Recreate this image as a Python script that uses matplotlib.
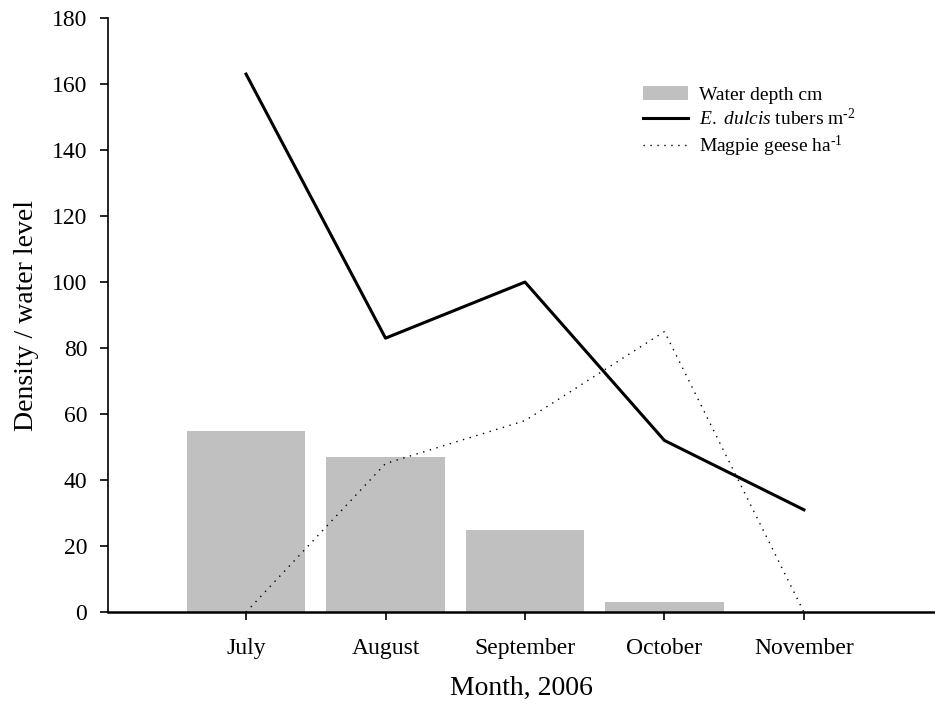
import matplotlib.pyplot as plt
from matplotlib.lines import Line2D
from matplotlib.patches import Patch

plt.rcParams['font.family'] = ['Liberation Serif', 'DejaVu Serif']
plt.rcParams['mathtext.fontset'] = 'custom'
plt.rcParams['mathtext.rm'] = 'Liberation Serif'
plt.rcParams['mathtext.it'] = 'Liberation Serif:italic'

months = ["July", "August", "September", "October", "November"]
water_depth = [55, 47, 25, 3, 0]
tubers = [163, 83, 100, 52, 31]
geese = [0, 45, 58, 85, 0]

x = list(range(1, len(months) + 1))

fig = plt.figure(figsize=(9.35, 7.06), dpi=100)
ax = fig.add_axes([0.1155, 0.133, 0.8845, 0.8415])

ax.bar(x, water_depth, width=0.85, color="#c0c0c0", zorder=1)
ax.plot(x, tubers, color="black", lw=2.2, zorder=3)
ax.plot(x, geese, color="black", lw=1, linestyle=(0, (1, 4)), zorder=2)

ax.set_xlim(0.01, 5.94)
ax.set_ylim(0, 180)
ax.set_yticks(range(0, 181, 20))
ax.set_xticks(x)
ax.set_xticklabels(months)
ax.tick_params(direction="out", length=6, width=1.2, labelsize=17)
ax.tick_params(axis="y", pad=9)
ax.tick_params(axis="x", pad=13)
ax.spines["top"].set_visible(False)
ax.spines["right"].set_visible(False)
ax.spines["left"].set_linewidth(1.2)
ax.spines["bottom"].set_linewidth(1.8)

ax.set_xlabel("Month, 2006", fontsize=20, labelpad=12)
ax.set_ylabel("Density / water level", fontsize=20, labelpad=9)

handles = [
    Patch(facecolor="#c0c0c0", edgecolor="none"),
    Line2D([], [], color="black", lw=2.2),
    Line2D([], [], color="black", lw=1, linestyle=(0, (1, 4))),
]
labels = [
    "Water depth cm",
    "$\\it{E.\\ dulcis}$ tubers m$^{\\rm \u20102}$",
    "Magpie geese ha$^{\\rm \u20101}$",
]
ax.legend(handles, labels, loc="upper left", bbox_to_anchor=(0.626, 0.915),
          frameon=False, fontsize=14, handlelength=2.3, handletextpad=0.55,
          labelspacing=0.22)

fig.savefig("out.png", dpi=100)
